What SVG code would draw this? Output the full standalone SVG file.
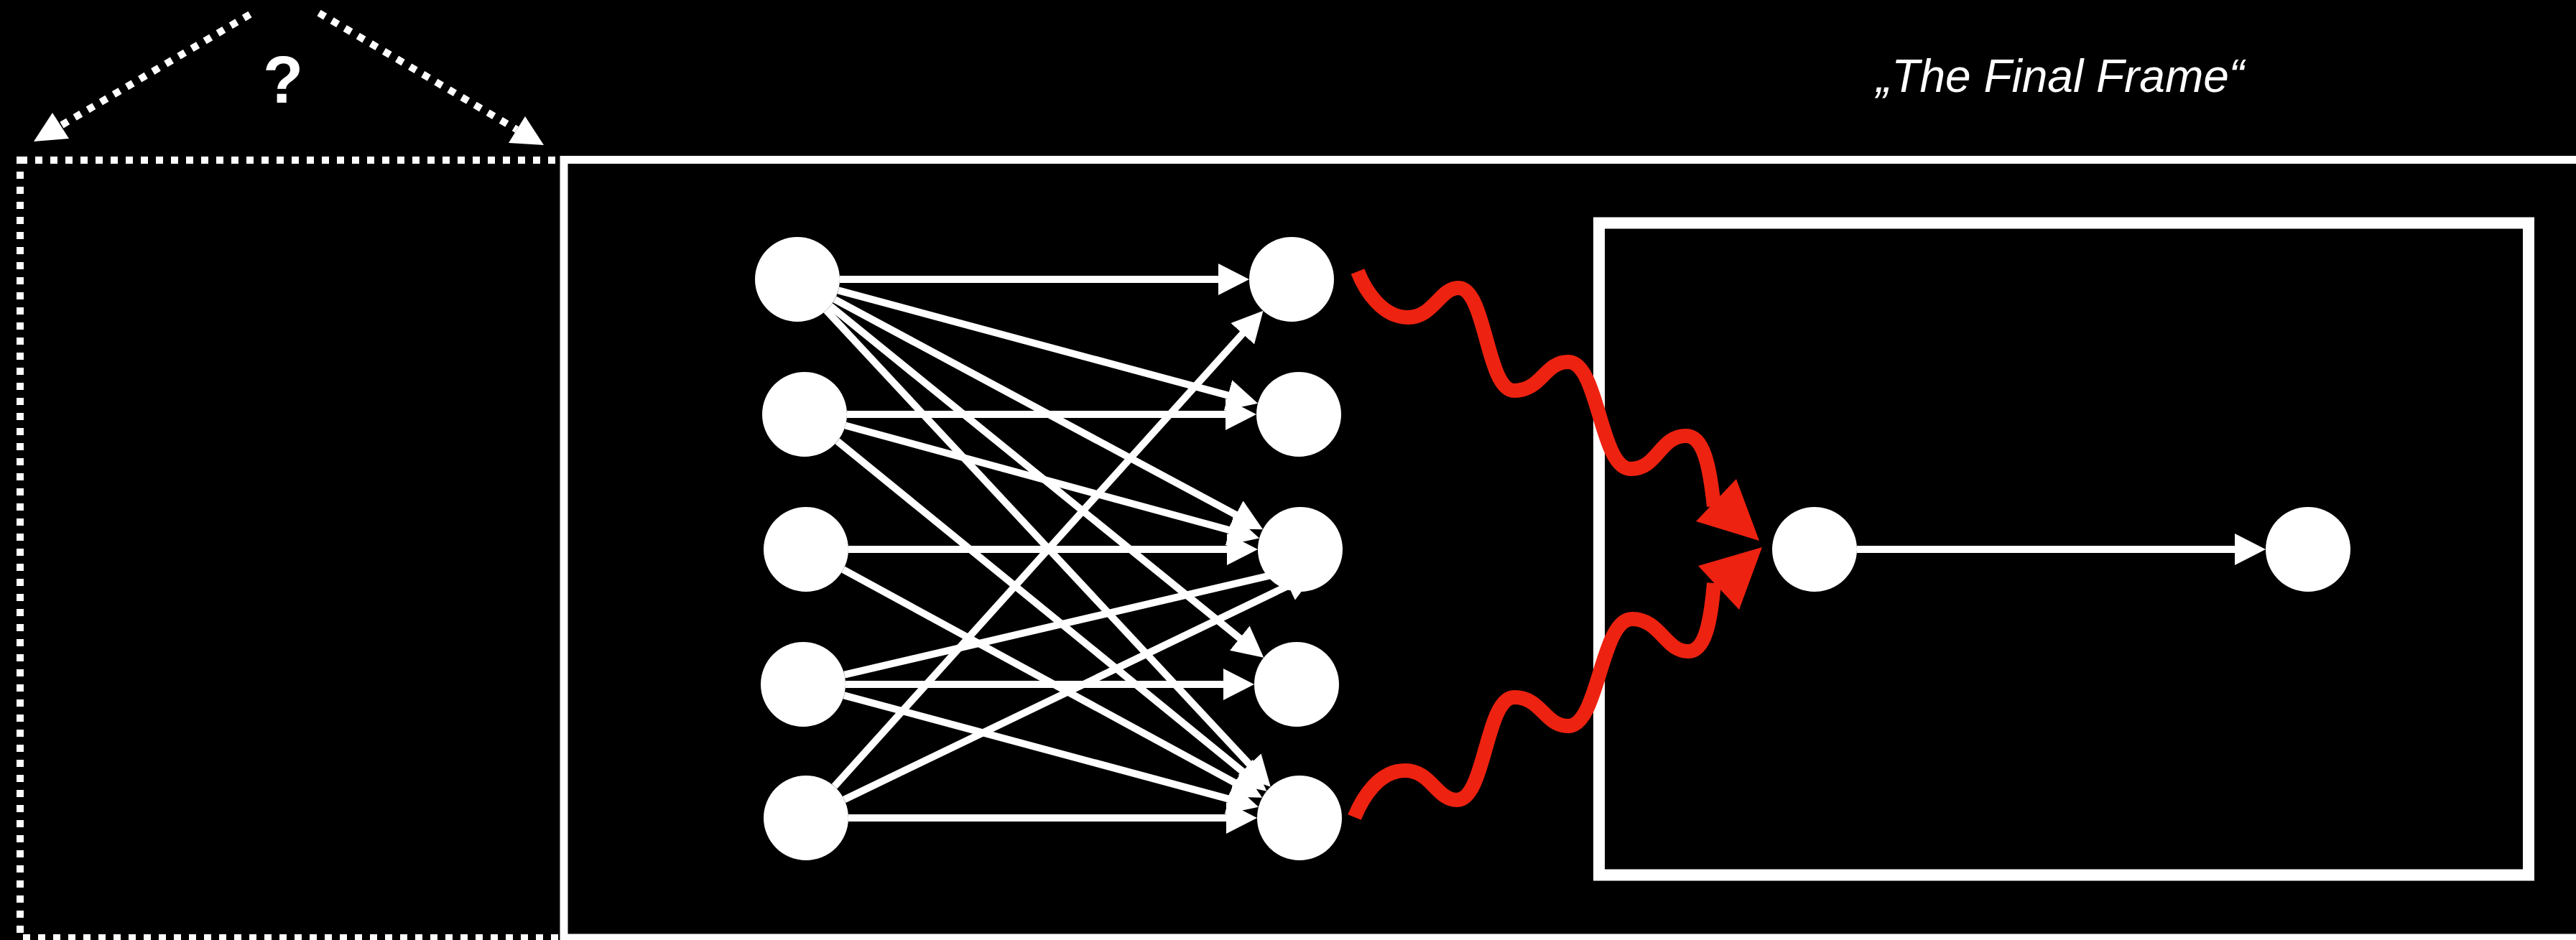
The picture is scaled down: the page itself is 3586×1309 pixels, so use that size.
<svg xmlns="http://www.w3.org/2000/svg" width="3586" height="1309" viewBox="0 0 3586 1309">
<defs>
<style>
.node{fill:#ffffff}
.edge{stroke:#ffffff;stroke-width:10;fill:none;marker-end:url(#ah)}
.dot{stroke:#ffffff;stroke-width:10;fill:none;stroke-dasharray:10 11}
.wave{stroke:#ED2210;stroke-width:20;fill:none}
.redhead{fill:#ED2210}
.whitehead{fill:#ffffff}
.frame{stroke:#ffffff;fill:none}
.lbl{fill:#ffffff;font-family:"Liberation Sans",Arial,Helvetica,sans-serif}
</style>
<marker id="ah" viewBox="0 0 43 44" markerWidth="43" markerHeight="44" refX="3" refY="22" orient="auto" markerUnits="userSpaceOnUse"><path d="M0,0 L43,22 L0,44 Z" fill="#ffffff"/></marker>
</defs>
<rect width="3586" height="1309" fill="#000000"/>

<g id="unknown-frame">
<rect class="dot" x="28" y="223" width="757" height="1083"/>
</g>
<g id="outer-frame">
<rect class="frame" stroke-width="11" x="785" y="222.5" width="2807" height="1083.5"/>
</g>
<g id="final-frame">
<rect class="frame" stroke-width="16" x="2226" y="310.5" width="1294" height="908"/>
</g>

<g id="labels">
<text class="lbl" x="394" y="143" font-size="92" font-weight="bold" text-anchor="middle">?</text>
<text class="lbl" x="2612" y="128" font-size="64" font-style="italic">„The Final Frame“</text>
</g>

<g id="connectors">
<path class="dot" d="M348,20 L84.5,175"/>
<polygon class="whitehead" points="47,197 73,157 96,193"/>
<path class="dot" d="M444,18 L719.5,180.5"/>
<polygon class="whitehead" points="757,202 731,162 708,199"/>

<path class="edge" d="M1169,389 L1699,389"/>
<path class="edge" d="M1167,404.3 L1712.4,551.3"/>
<path class="edge" d="M1162,416.9 L1722.8,718.2"/>
<path class="edge" d="M1155.8,426.2 L1728.1,890.6"/>
<path class="edge" d="M1150.2,432.2 L1741.5,1066.6"/>
<path class="edge" d="M1179,577 L1709,577"/>
<path class="edge" d="M1176.9,592.5 L1714.5,739"/>
<path class="edge" d="M1165.7,614.3 L1732.3,1076.4"/>
<path class="edge" d="M1181,765 L1711,765"/>
<path class="edge" d="M1173.8,793.2 L1722,1091.7"/>
<path class="edge" d="M1175.5,939.6 L1791,796.1"/>
<path class="edge" d="M1177,953 L1706,953"/>
<path class="edge" d="M1175,968.3 L1713.4,1113.3"/>
<path class="edge" d="M1161.5,1095.2 L1731.7,462.5"/>
<path class="edge" d="M1175.2,1113.4 L1796,814.4"/>
<path class="edge" d="M1181,1139 L1710,1139"/>

<path class="edge" d="M2585,765 L3114,765"/>

<path class="wave" d="M1890,378 C1901,406 1925,442 1960,442 C1995,442 2005,401 2030,401 C2069,401 2069,544 2108,544 C2146,544 2150,504 2183,504 C2226,504 2227,653 2270,653 C2308,653 2310,607 2347,607 C2372,607 2380,650 2386,705"/>
<polygon class="redhead" points="2449,753 2417,667 2361,726"/>
<path class="wave" d="M1885.5,1138 C1897,1110 1920,1073 1956,1073 C1992,1073 2000,1114 2028,1114 C2068,1114 2068,971 2108,971 C2146,971 2150,1011 2183,1011 C2226,1011 2228,862 2272,862 C2311,862 2318,907 2350,907 C2375,907 2382,860 2386,812"/>
<polygon class="redhead" points="2453,762 2364,788 2421,849"/>
</g>

<g id="n-l1"><circle class="node" cx="1110" cy="389" r="59"/></g>
<g id="n-l2"><circle class="node" cx="1120" cy="577" r="59"/></g>
<g id="n-l3"><circle class="node" cx="1122" cy="765" r="59"/></g>
<g id="n-l4"><circle class="node" cx="1118" cy="953" r="59"/></g>
<g id="n-l5"><circle class="node" cx="1122" cy="1139" r="59"/></g>
<g id="n-r1"><circle class="node" cx="1798" cy="389" r="59"/></g>
<g id="n-r2"><circle class="node" cx="1808" cy="577" r="59"/></g>
<g id="n-r3"><circle class="node" cx="1810" cy="765" r="59"/></g>
<g id="n-r4"><circle class="node" cx="1805" cy="953" r="59"/></g>
<g id="n-r5"><circle class="node" cx="1809" cy="1139" r="59"/></g>
<g id="n-final-a"><circle class="node" cx="2526" cy="765" r="59"/></g>
<g id="n-final-b"><circle class="node" cx="3213" cy="765" r="59"/></g>
</svg>
